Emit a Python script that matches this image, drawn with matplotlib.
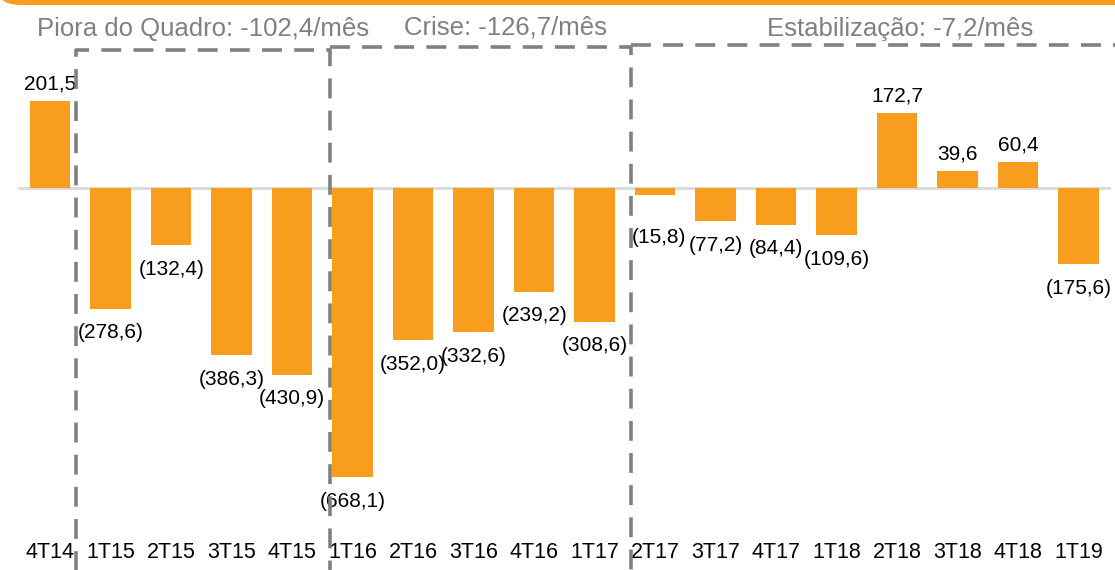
import matplotlib.pyplot as plt
from matplotlib.patches import FancyBboxPatch

# data
quarters = ['4T14', '1T15', '2T15', '3T15', '4T15', '1T16', '2T16', '3T16', '4T16',
            '1T17', '2T17', '3T17', '4T17', '1T18', '2T18', '3T18', '4T18', '1T19']
values = [201.5, -278.6, -132.4, -386.3, -430.9, -668.1, -352.0, -332.6, -239.2,
          -308.6, -15.8, -77.2, -84.4, -109.6, 172.7, 39.6, 60.4, -175.6]
phase_titles = ['Piora do Quadro: -102,4/mês', 'Crise: -126,7/mês', 'Estabilização: -7,2/mês']

ORANGE = '#F99D1E'
GRAY = '#808080'

plt.rcParams['font.family'] = ['Liberation Sans', 'DejaVu Sans']

fig = plt.figure(figsize=(11.15, 5.7), dpi=100)
ax = fig.add_axes([0, 0, 1, 1])
ax.set_xlim(-0.83, 17.6)
ax.set_ylim(-882, 434)
ax.axis('off')

x = list(range(len(values)))
ax.bar(x, values, width=0.67, color=ORANGE, zorder=2)
ax.axhline(0, xmin=0.017, xmax=0.995, color='#D9D9D9', lw=2, zorder=1)


def fmt(v):
    s = f'{abs(v):.1f}'.replace('.', ',')
    return s if v >= 0 else f'({s})'


# the 2T17 label sits lower than the rest in the original
label_offsets = {10: (4, -43)}

for xi, v in zip(x, values):
    off = label_offsets.get(xi, (0, 17 if v >= 0 else -24))
    ax.annotate(fmt(v), (xi, v), xytext=off, textcoords='offset pixels',
                ha='center', va='center', fontsize=15, color='black', zorder=3)
    ax.text(xi, -842, quarters[xi], ha='center', va='center', fontsize=15.5, color='black')

# dashed phase boxes
dash = dict(color=GRAY, lw=2.6, dashes=(5.5, 3.4), zorder=5, solid_capstyle='butt')
ax.plot([0.43, 0.43, 4.63, 4.63], [-900, 318, 318, -900], **dash)
ax.plot([4.63, 9.6, 9.6], [325, 325, -900], **dash)
ax.plot([9.6, 18.5], [330, 330], **dash)

# phase titles
ax.text(2.53, 366, phase_titles[0], ha='center', va='center', fontsize=18.5, color=GRAY)
ax.text(7.52, 370, phase_titles[1], ha='center', va='center', fontsize=18.5, color=GRAY)
ax.text(14.05, 366, phase_titles[2], ha='center', va='center', fontsize=18.5, color=GRAY)

# orange strip at the top
strip = FancyBboxPatch((0.0, 1 - 5 / 570), 1.2, 0.2, boxstyle='round,pad=0,rounding_size=0.02',
                       transform=fig.transFigure, facecolor=ORANGE, edgecolor='none')
fig.patches.append(strip)

fig.savefig('out.png', dpi=100)
